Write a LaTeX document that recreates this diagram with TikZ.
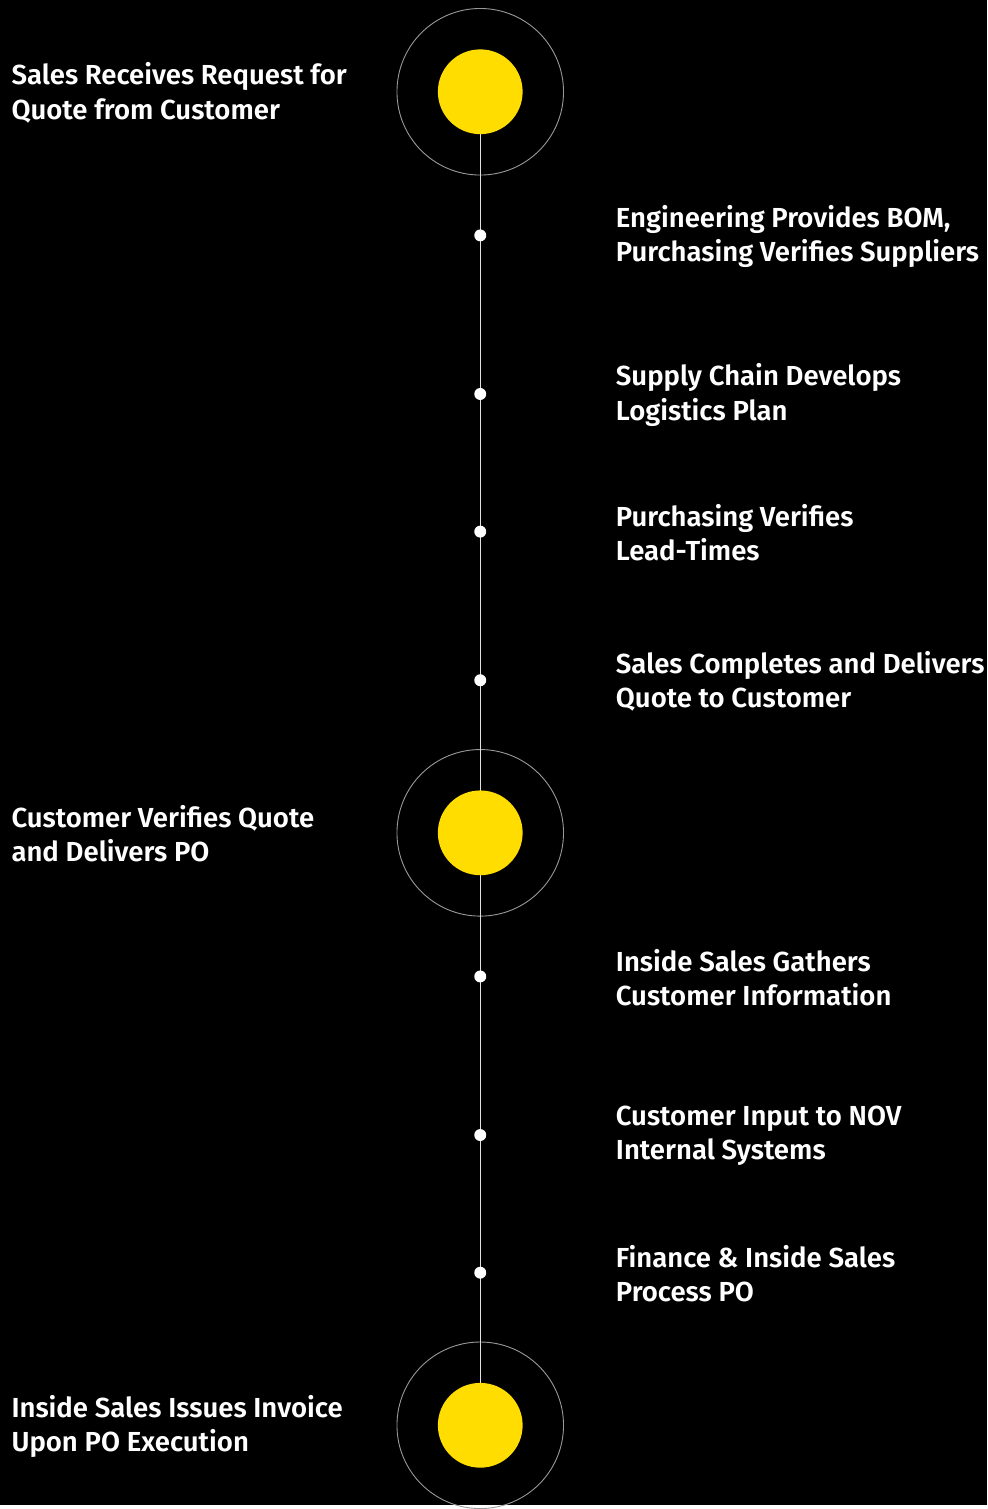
\documentclass[tikz,border=0pt]{standalone}
\usepackage{fontspec}
\setmainfont{Fira Sans}[BoldFont={Fira Sans SemiBold}]
\usetikzlibrary{positioning}
\definecolor{milestone}{HTML}{FFDD00}

\begin{document}
\begin{tikzpicture}[x=1pt, y=-1pt,
    ring/.style={circle, draw=gray!80, line width=0.9pt, minimum size=167pt, inner sep=0pt},
    milestone/.style={circle, fill=milestone, minimum size=85pt, inner sep=0pt},
    stepdot/.style={circle, fill=white, minimum size=12pt, inner sep=0pt},
    label/.style={anchor=west, align=left, text=white, font=\fontsize{27.6}{34.5}\selectfont\bfseries},
    line/.style={draw=white!88!black, line width=1.1pt}]
    \fill[black] (0,0) rectangle (990,1509);
    % big markers
    \node [ring] (r1) at (481.5,92) {};
    \node [ring] (r2) at (481.5,835) {};
    \node [ring] (r3) at (481.5,1429) {};
    \path [line] (r1.center) -- (r3.center);
    \node [milestone] (m1) at (r1) {};
    \node [milestone] (m2) at (r2) {};
    \node [milestone] (m3) at (r3) {};
    % small steps
    \node [stepdot] (d1) at (481.5,236) {};
    \node [stepdot] (d2) at (481.5,395) {};
    \node [stepdot] (d3) at (481.5,533) {};
    \node [stepdot] (d4) at (481.5,682) {};
    \node [stepdot] (d5) at (481.5,979) {};
    \node [stepdot] (d6) at (481.5,1138) {};
    \node [stepdot] (d7) at (481.5,1276) {};
    % left labels
    \node [label] (t1) at (8,93) {Sales Receives Request for\\Quote from Customer};
    \node [label] (t2) at (8,836) {Customer Verifies Quote\\and Delivers PO};
    \node [label] (t3) at (8,1430) {Inside Sales Issues Invoice\\Upon PO Execution};
    % right labels
    \node [label] (s1) at (614,237) {Engineering Provides BOM,\\Purchasing Verifies Suppliers};
    \node [label] (s2) at (614,396) {Supply Chain Develops\\Logistics Plan};
    \node [label] (s3) at (614,534) {Purchasing Verifies\\Lead-Times};
    \node [label] (s4) at (614,683) {Sales Completes and Delivers\\Quote to Customer};
    \node [label] (s5) at (614,980) {Inside Sales Gathers\\Customer Information};
    \node [label] (s6) at (614,1139) {Customer Input to NOV\\Internal Systems};
    \node [label] (s7) at (614,1277) {Finance \& Inside Sales\\Process PO};
\end{tikzpicture}
\end{document}
